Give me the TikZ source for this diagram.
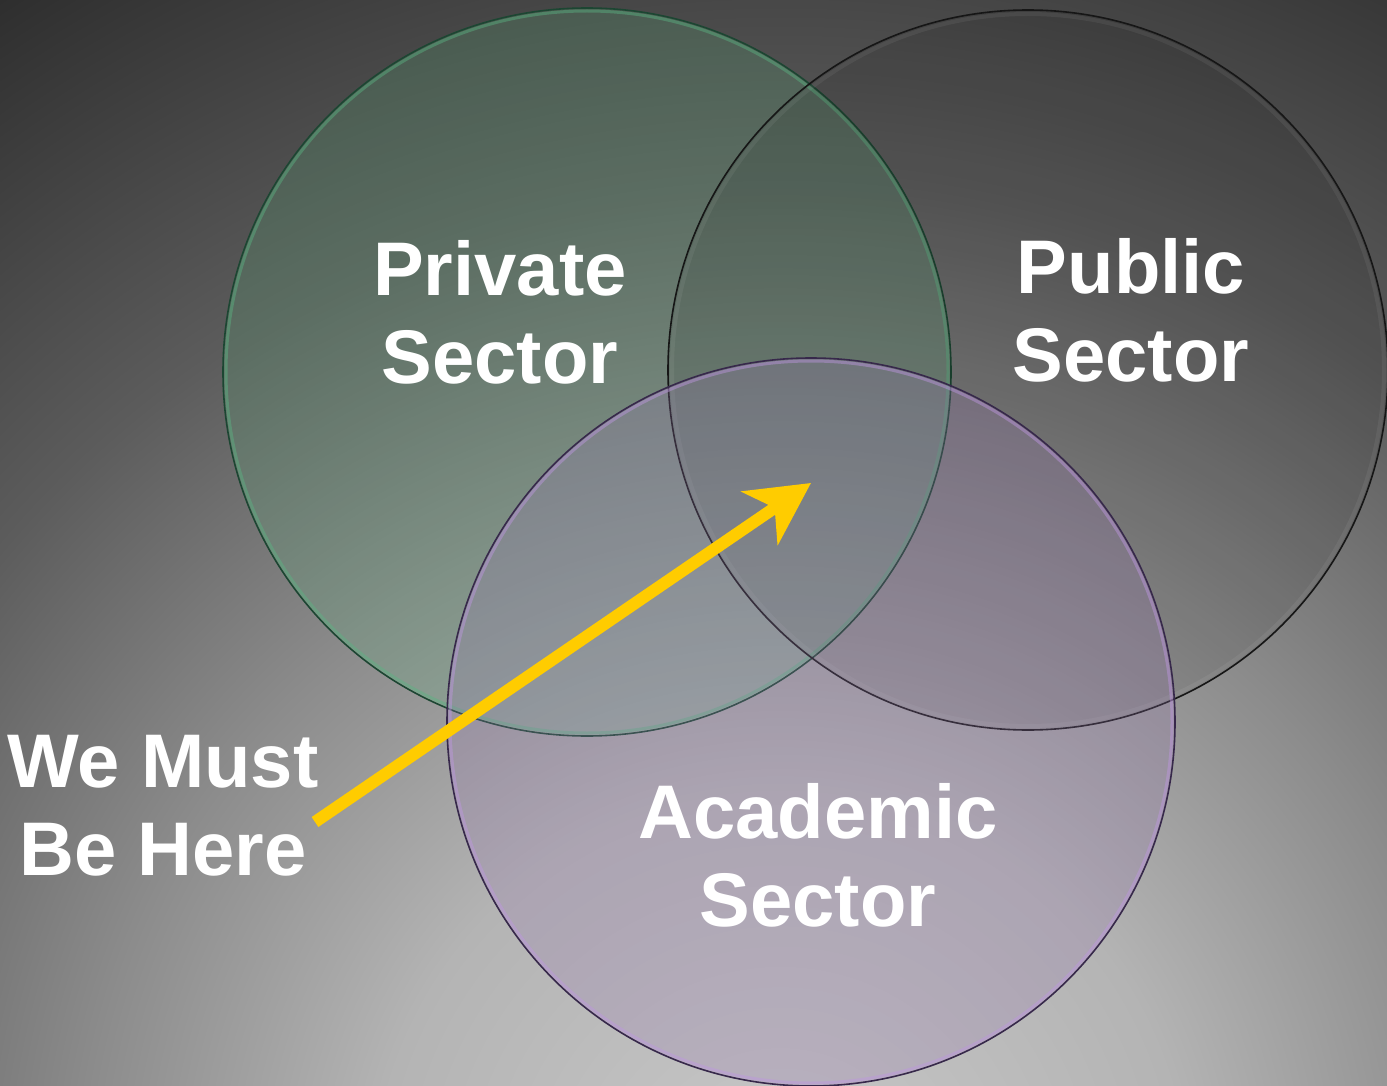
\documentclass[tikz,border=0pt]{standalone}
\usepackage{fontspec}
\setmainfont{Liberation Sans}
\usetikzlibrary{arrows.meta}
\definecolor{bgA}{HTML}{C8C8C8}
\definecolor{bgB}{HTML}{B4B4B4}
\definecolor{bgC}{HTML}{8C8C8C}
\definecolor{bgD}{HTML}{5C5C5C}
\definecolor{bgE}{HTML}{2C2C2C}
\definecolor{privfill}{RGB}{90,170,120}
\definecolor{privedge}{RGB}{28,70,50}
\definecolor{privglow}{RGB}{90,180,130}
\definecolor{pubfill}{RGB}{0,0,0}
\definecolor{pubedge}{RGB}{22,22,22}
\definecolor{acadfill}{RGB}{150,120,175}
\definecolor{acadedge}{RGB}{55,40,75}
\definecolor{acadglow}{RGB}{190,150,225}
\definecolor{arrowyellow}{RGB}{255,204,0}
\pgfdeclareradialshading{bgshade}{\pgfpoint{0bp}{0bp}}{color(0bp)=(bgA); color(7bp)=(bgB); color(12bp)=(bgC); color(17.5bp)=(bgD); color(25bp)=(bgE); color(50bp)=(bgE)}
\tikzset{
  venn/.style={circle, minimum size=#1, inner sep=0pt, outer sep=0pt},
  label text/.style={text=white, font=\fontsize{76}{88}\selectfont\bfseries, align=center, inner sep=0pt},
  pointer/.style={draw=arrowyellow, line width=12pt, -{Stealth[length=62pt, width=64pt, inset=18pt]}}
}
\begin{document}
\begin{tikzpicture}[x=1pt,y=-1pt]
\useasboundingbox (0,0) rectangle (1387,1086);
\begin{scope}
  \clip (0,0) rectangle (1387,1086);
  \shade[shading=bgshade] (-670,-250) rectangle (2230,2650);
\end{scope}
% circles
\node[venn=728pt, fill=privfill, fill opacity=0.22, draw=privedge, line width=1.6pt] (priv) at (587,372) {};
\draw[privglow, line width=3pt, opacity=0.45] (priv.center) circle[radius=361pt];
\node[venn=720pt, fill=pubfill, fill opacity=0.10, draw=pubedge, line width=1.6pt] (pub) at (1028,370) {};
\draw[white, line width=4pt, opacity=0.06] (pub.center) circle[radius=356pt];
\node[venn=728pt, fill=acadfill, fill opacity=0.25, draw=acadedge, line width=1.6pt] (acad) at (811,722) {};
\draw[acadglow, line width=3pt, opacity=0.45] (acad.center) circle[radius=361pt];
% labels
\node[label text] (privtext) at (500,312) {Private\\Sector};
\node[label text] (pubtext) at (1131,310) {Public\\Sector};
\node[label text] (acadtext) at (818,855) {Academic\\Sector};
\node[label text] (here) at (163,806) {We Must\\Be Here};
% arrow
\coordinate (tail) at (315,822);
\coordinate (target) at (811,483);
\draw[pointer] (tail) -- (target);
\end{tikzpicture}
\end{document}
